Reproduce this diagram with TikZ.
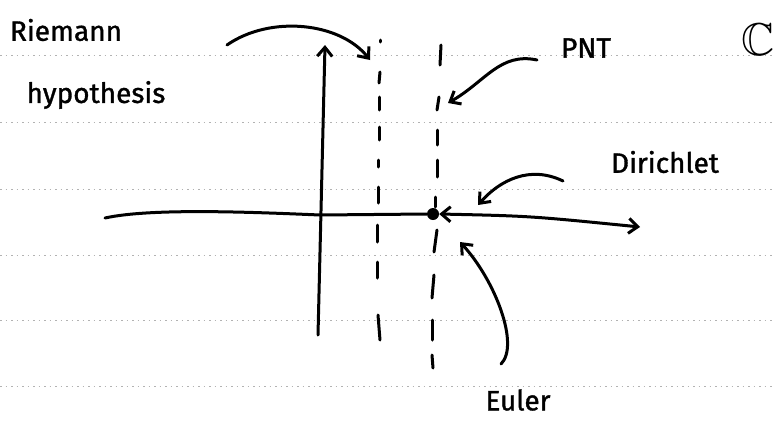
\documentclass[tikz,border=0pt]{standalone}
\usepackage{fontspec}
\usepackage{amssymb}
\setmainfont{Fira Sans}
\newfontfamily\handfont{Fira Sans}[FakeBold=1.2]
\usetikzlibrary{arrows.meta}
\begin{document}
\begin{tikzpicture}[x=1pt,y=-1pt,
  ink/.style={line width=3pt, line cap=round, line join=round},
  barb/.tip={Straight Barb[length=9pt,width=15pt]},
  tip/.style={-barb},
  hand/.style={font=\handfont\fontsize{28}{30}\selectfont, inner sep=0pt},
  ruled/.style={black!30, line width=0.8pt, dash pattern=on 1.5pt off 4pt},
  dashseg/.style={line width=3pt, line cap=round}]
\fill[white] (0,0) rectangle (774,421);
\useasboundingbox (0,0) rectangle (774,421);
% notebook rules
\foreach \y in {55,122,189,255,320,386} \draw[ruled] (0,\y) -- (774,\y);
% labels
\node[hand] (riemann) at (66,30) {Riemann};
\node[hand] (rh) at (96,95) {hypothesis};
\node[hand] (pnt) at (586,48) {PNT};
\node[font=\fontsize{46}{48}\selectfont, inner sep=0pt] (cc) at (758,40) {$\mathbb{C}$};
\node[hand] (dir) at (665,162) {Dirichlet};
\node[hand] (euler) at (518,400) {Euler};
% axes
\coordinate (o) at (320,215);
\coordinate (xl) at (105,218);
\coordinate (xr) at (640,227);
\coordinate (yb) at (318,335);
\coordinate (yt) at (325,45);
\node[circle, fill, inner sep=0pt, minimum size=12pt] (one) at (433,214) {};
\draw[ink] (xl) .. controls (150,208) and (250,212) .. (o) -- (one.west);
\draw[ink, barb-barb] (one.east) .. controls (530,216) .. (xr);
\draw[ink, tip] (yb) -- (yt);
% critical line Re=1/2
\foreach \a/\b/\xa/\xb in {40/42/380/380, 72/83/380/379, 97/110/379/379, 127/140/379/379, 160/167/378/378, 187/203/378/378, 225/242/377/377, 262/278/377/377, 315/340/378/380}
  \draw[dashseg] (\xa,\a) -- (\xb,\b);
% line Re=1
\foreach \a/\b/\xa/\xb in {45/65/441/440, 97/110/439/437, 130/145/437/437, 160/177/437/437, 197/207/435/435, 230/252/437/434, 275/298/434/432, 320/340/432/432, 355/368/432/433}
  \draw[dashseg] (\xa,\a) -- (\xb,\b);
% annotation arrows
\coordinate (rhs) at (227,45);
\coordinate (pnts) at (537,60);
\coordinate (dirs) at (563,181);
\coordinate (eus) at (501,364);
\draw[ink, tip] (rhs) .. controls (270,15) and (340,22) .. (370,60);
\draw[ink, tip] (pnts) .. controls (500,52) and (485,82) .. (448,103);
\draw[ink, tip] (dirs) .. controls (530,165) and (500,180) .. (478,205);
\draw[ink, tip] (eus) .. controls (520,345) and (495,280) .. (460,242);
\end{tikzpicture}
\end{document}
